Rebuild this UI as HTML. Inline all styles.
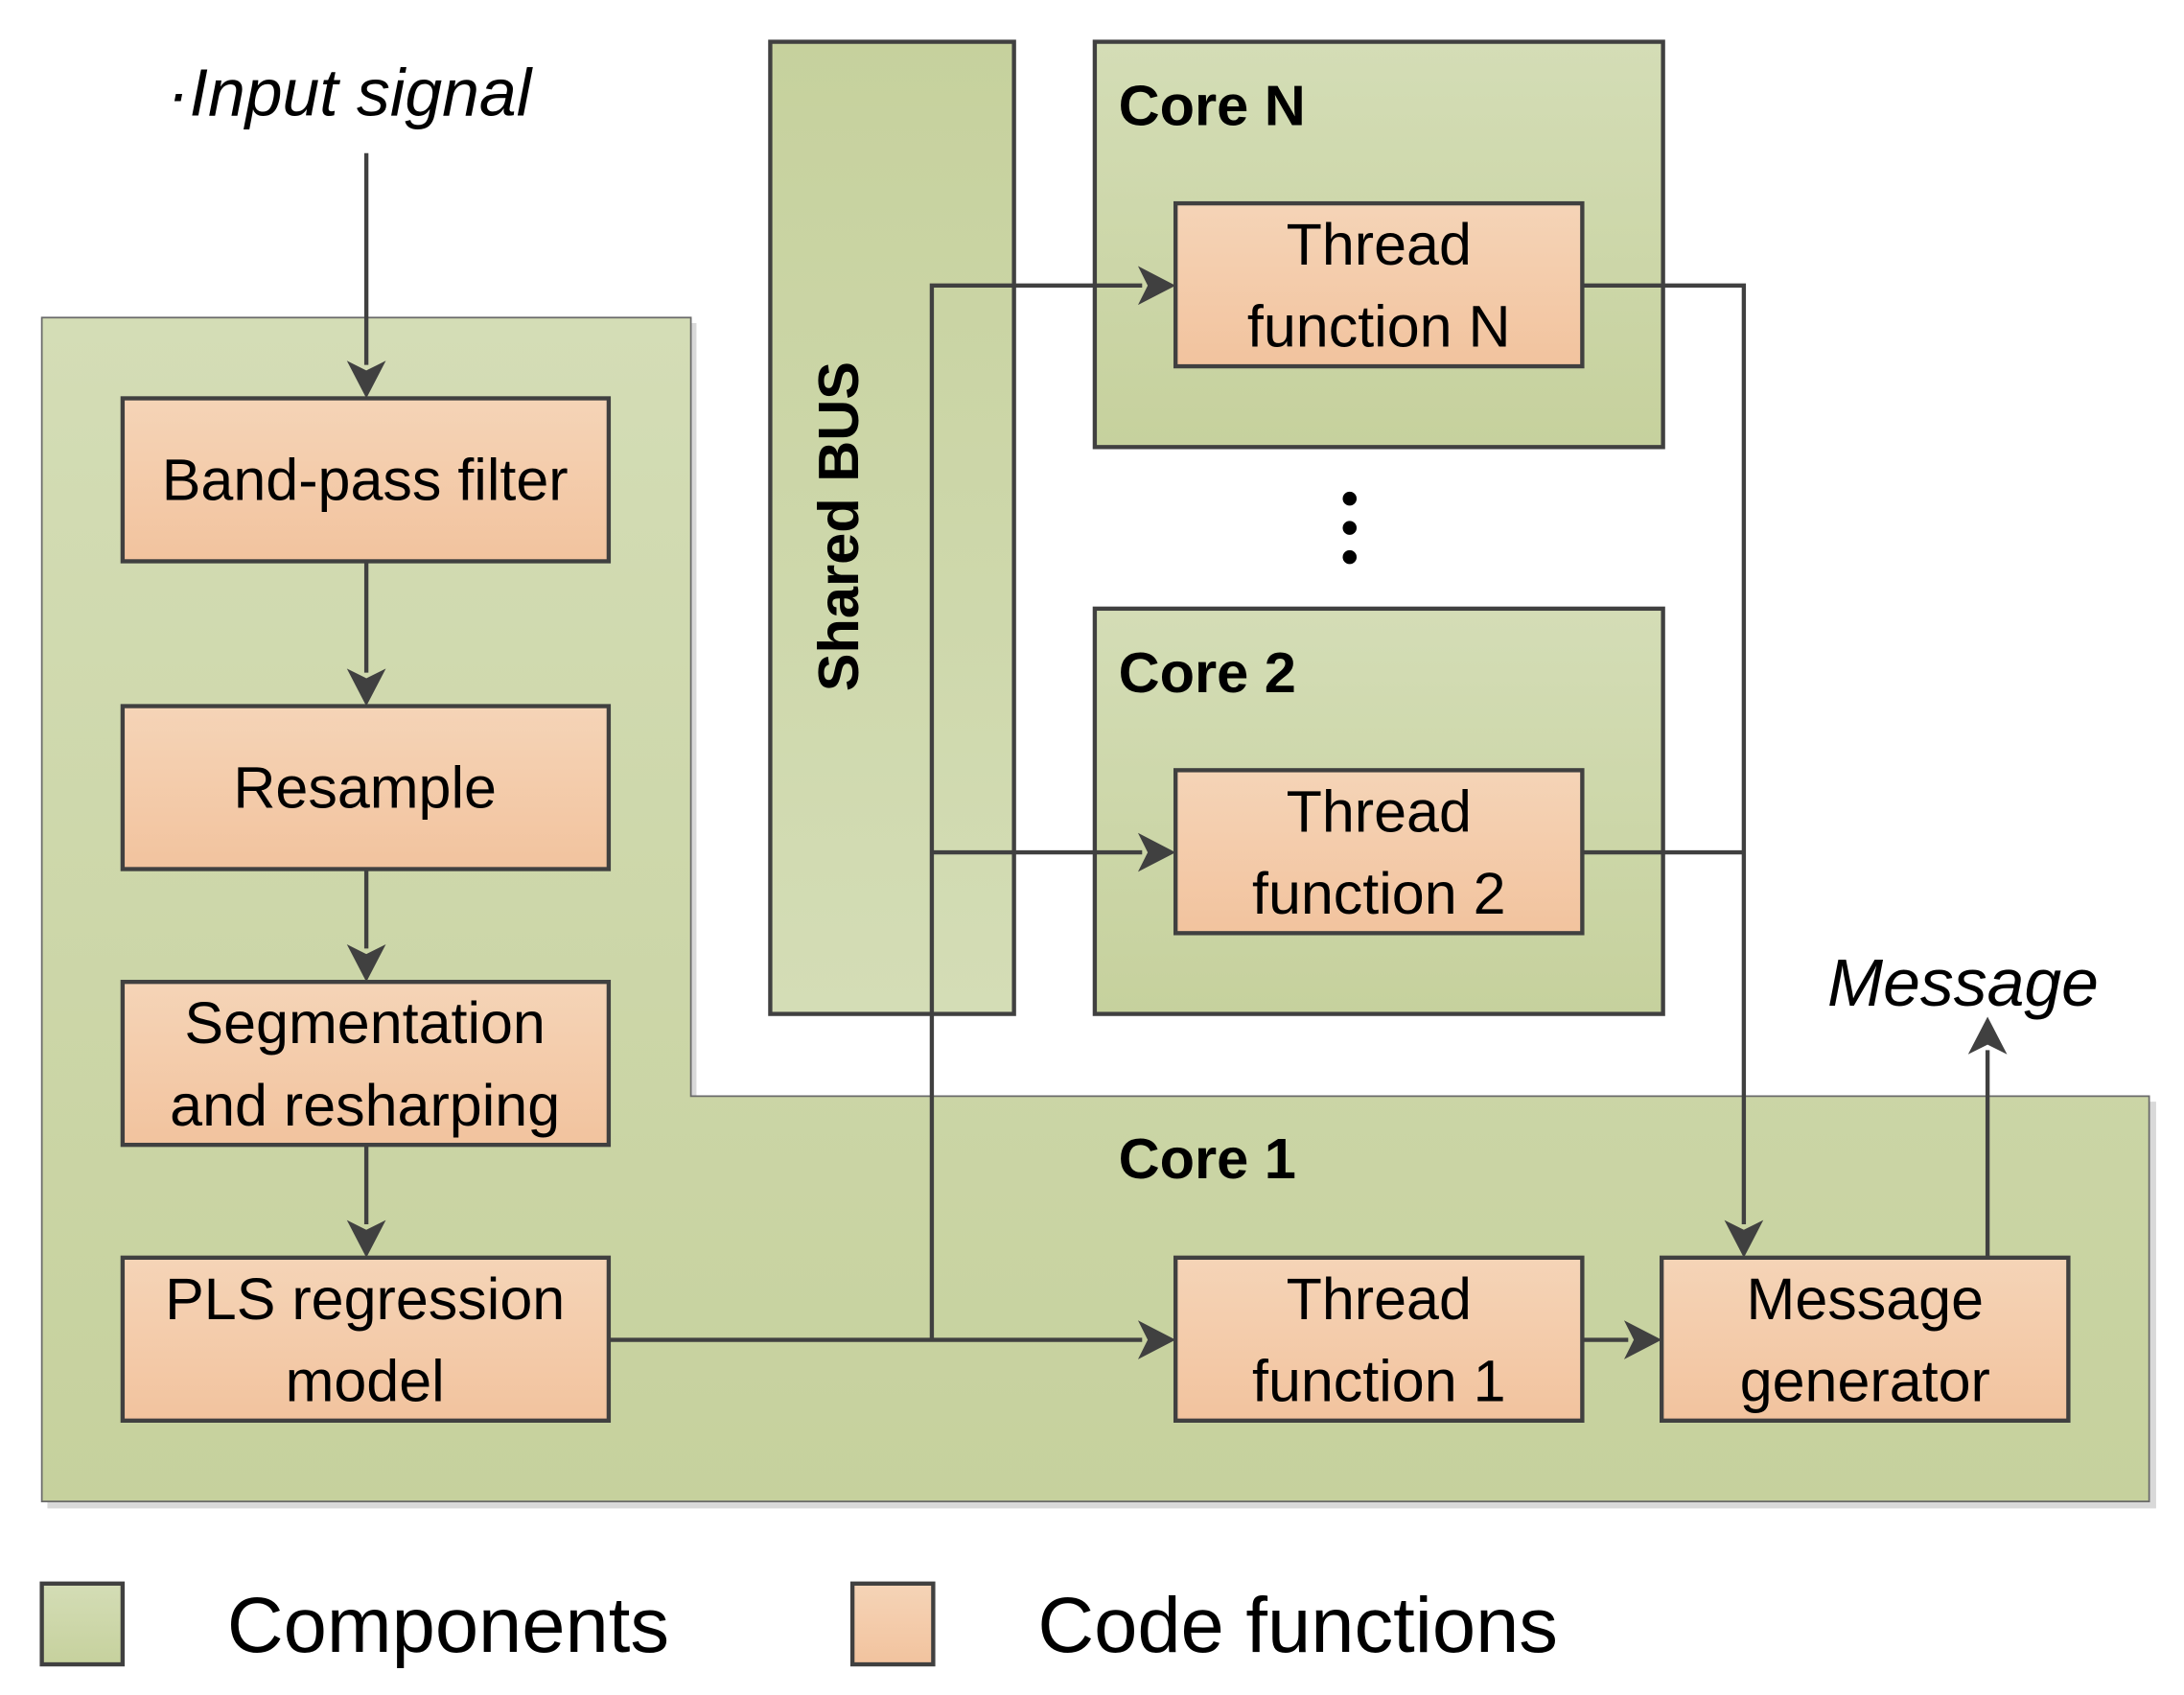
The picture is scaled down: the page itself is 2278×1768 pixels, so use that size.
<!DOCTYPE html>
<html><head><meta charset="utf-8"><style>
html,body{margin:0;padding:0;background:#fff;}
svg{display:block;}
text{font-family:"Liberation Sans",sans-serif;fill:#000;}
</style></head><body>
<svg width="2278" height="1768" viewBox="0 0 1568 1217" xmlns="http://www.w3.org/2000/svg">
<defs>
<linearGradient id="g" x1="0" y1="0" x2="0" y2="1"><stop offset="0" stop-color="#d4ddb6"/><stop offset="1" stop-color="#c6d19d"/></linearGradient>
<linearGradient id="gb" x1="0" y1="0" x2="0" y2="1"><stop offset="0" stop-color="#c6d19d"/><stop offset="1" stop-color="#d4ddb6"/></linearGradient>
<linearGradient id="o" x1="0" y1="0" x2="0" y2="1"><stop offset="0" stop-color="#f5d4b7"/><stop offset="1" stop-color="#f2c39e"/></linearGradient>
</defs>
<polygon points="34,232 500,232 500,791 1548,791 1548,1083 34,1083" fill="#d9d9d9"/>
<polygon points="30,228 496,228 496,787 1543,787 1543,1078 30,1078" fill="url(#g)" stroke="#6a6a6a" stroke-width="1.2"/>
<rect x="553" y="30" width="175" height="698" fill="url(#gb)" stroke="#404040" stroke-width="3"/>
<text transform="translate(616,378) rotate(-90)" text-anchor="middle" font-size="41" font-weight="bold">Shared BUS</text>
<rect x="786" y="30" width="408" height="291" fill="url(#g)" stroke="#404040" stroke-width="3"/>
<text x="803" y="90" font-size="41" font-weight="bold">Core N</text>
<rect x="786" y="437" width="408" height="291" fill="url(#g)" stroke="#404040" stroke-width="3"/>
<text x="803" y="497" font-size="41" font-weight="bold">Core 2</text>
<text x="803" y="846" font-size="41" font-weight="bold">Core 1</text>
<circle cx="969" cy="358" r="5" fill="#000"/><circle cx="969" cy="379" r="5" fill="#000"/><circle cx="969" cy="400" r="5" fill="#000"/>
<g stroke="#404040" stroke-width="3" fill="none">
<line x1="263" y1="110" x2="263" y2="262"/>
<line x1="263" y1="403" x2="263" y2="483"/>
<line x1="263" y1="624" x2="263" y2="681"/>
<line x1="263" y1="822" x2="263" y2="879"/>
<line x1="437" y1="962" x2="820" y2="962"/>
<polyline points="669,962 669,205 820,205"/>
<line x1="669" y1="612" x2="820" y2="612"/>
<polyline points="1136,205 1252,205 1252,879"/>
<line x1="1136" y1="612" x2="1252" y2="612"/>
<line x1="1136" y1="962" x2="1169" y2="962"/>
<line x1="1427" y1="903" x2="1427" y2="754"/>
</g>
<g fill="#404040">
<polygon points="249,259 263,286 277,259 263,266"/>
<polygon points="249,480 263,507 277,480 263,487"/>
<polygon points="249,678 263,705 277,678 263,685"/>
<polygon points="249,876 263,903 277,876 263,883"/>
<polygon points="817,948 844,962 817,976 824,962"/>
<polygon points="817,191 844,205 817,219 824,205"/>
<polygon points="817,598 844,612 817,626 824,612"/>
<polygon points="1166,948 1193,962 1166,976 1173,962"/>
<polygon points="1238,876 1252,903 1266,876 1252,883"/>
<polygon points="1413,757 1427,730 1441,757 1427,750"/>
</g>
<g fill="url(#o)" stroke="#404040" stroke-width="3">
<rect x="88" y="286" width="349" height="117"/>
<rect x="88" y="507" width="349" height="117"/>
<rect x="88" y="705" width="349" height="117"/>
<rect x="88" y="903" width="349" height="117"/>
<rect x="844" y="146" width="292" height="117"/>
<rect x="844" y="553" width="292" height="117"/>
<rect x="844" y="903" width="292" height="117"/>
<rect x="1193" y="903" width="292" height="117"/>
</g>
<g font-size="42" text-anchor="middle">
<text x="262" y="359">Band-pass filter</text>
<text x="262" y="580">Resample</text>
<text x="262" y="749">Segmentation</text>
<text x="262" y="808">and resharping</text>
<text x="262" y="947">PLS regression</text>
<text x="262" y="1006">model</text>
<text x="990" y="190">Thread</text>
<text x="990" y="249">function N</text>
<text x="990" y="597">Thread</text>
<text x="990" y="656">function 2</text>
<text x="990" y="947">Thread</text>
<text x="990" y="1006">function 1</text>
<text x="1339" y="947">Message</text>
<text x="1339" y="1006">generator</text>
</g>
<text x="120" y="83" font-size="48" font-style="italic">·Input signal</text>
<text x="1312" y="722" font-size="48" font-style="italic">Message</text>
<rect x="30" y="1137" width="58" height="58" fill="url(#g)" stroke="#404040" stroke-width="3"/>
<text x="163" y="1186" font-size="56">Components</text>
<rect x="612" y="1137" width="58" height="58" fill="url(#o)" stroke="#404040" stroke-width="3"/>
<text x="745" y="1186" font-size="56">Code functions</text>
</svg>
</body></html>
